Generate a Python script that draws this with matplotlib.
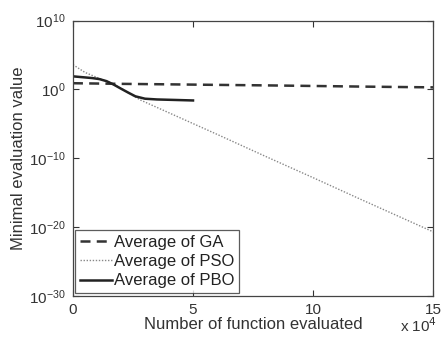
import numpy as np
import matplotlib
matplotlib.use("Agg")
import matplotlib.pyplot as plt

plt.rcParams['font.family'] = ['Liberation Sans', 'DejaVu Sans']

# evaluations and averaged minimal values per algorithm
ga_x = [0, 2e4, 4e4, 6e4, 8e4, 10e4, 12e4, 15e4]
ga_y = [8.0, 6.5, 5.5, 4.6, 3.9, 3.2, 2.6, 2.0]

pso_x = [0, 0.5e4, 1.1e4, 1.5e4, 2.0e4, 2.8e4, 4e4, 6e4, 8e4, 10e4, 12e4, 15e4]
pso_y = [4e3, 3e2, 4e1, 1.2e1, 1.5, 3e-2, 4e-4, 3e-7, 2e-10, 1.5e-13, 1e-16, 2e-21]

pbo_x = [0, 0.4e4, 0.8e4, 1.1e4, 1.4e4, 1.7e4, 2.0e4, 2.3e4, 2.6e4, 3.0e4, 3.5e4, 4.2e4, 5e4]
pbo_y = [80, 60, 45, 32, 16, 5, 1.3, 0.35, 0.1, 0.045, 0.035, 0.03, 0.025]

xticks = [0, 5e4, 10e4, 15e4]
xtick_labels = ['0', '5', '10', '15']
yticks = [1e-30, 1e-20, 1e-10, 1e0, 1e10]

fig = plt.figure(figsize=(4.42, 3.44), dpi=100)
ax = fig.add_axes([0.165, 0.14, 0.815, 0.80])

ax.semilogy(ga_x, ga_y, color='#333333', linestyle=(0, (4, 2.5)), linewidth=1.8,
            label='Average of GA')
ax.semilogy(pso_x, pso_y, color='#888888', linestyle=(0, (1, 1.2)), linewidth=1.0,
            label='Average of PSO')
ax.semilogy(pbo_x, pbo_y, color='#222222', linestyle='-', linewidth=1.8,
            label='Average of PBO')

ax.set_xlim(0, 15e4)
ax.set_ylim(1e-30, 1e10)
ax.set_xticks(xticks)
ax.set_xticklabels(xtick_labels)
ax.set_yticks(yticks)
ax.yaxis.set_minor_locator(matplotlib.ticker.NullLocator())
ax.tick_params(direction='in', top=True, right=True, labelsize=11, colors='#333333',
               length=4, pad=5)
for sp in ax.spines.values():
    sp.set_color('#444444')
    sp.set_linewidth(0.9)

ax.set_xlabel('Number of function evaluated', fontsize=12, color='#333333', labelpad=0)
ax.set_ylabel('Minimal evaluation value', fontsize=12, color='#333333', labelpad=2)
fig.text(0.905, 0.035, r'x 10$^4$', fontsize=11, color='#333333')

leg = ax.legend(loc='lower left', fontsize=12, frameon=True, fancybox=False,
                borderaxespad=0.15, handlelength=1.9, handletextpad=0.1,
                labelspacing=0.25, borderpad=0.3)
leg.get_frame().set_edgecolor('#333333')
leg.get_frame().set_linewidth(0.9)
for t in leg.get_texts():
    t.set_color('#222222')

fig.savefig('out.png', dpi=100)
